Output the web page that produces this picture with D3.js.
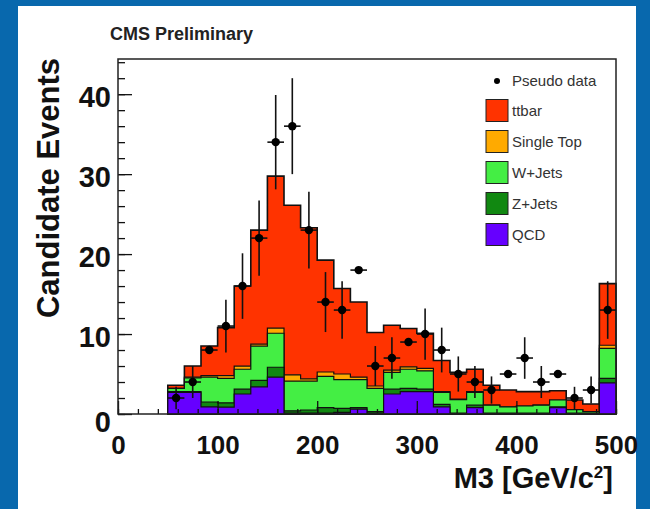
<!DOCTYPE html>
<head>
  <meta charset="utf-8">
  <script src="https://d3js.org/d3.v7.min.js"></script>
  <style>
    body { margin:0; background:#0868ad; }
    text { font-family: "Liberation Sans", Arial, Helvetica, sans-serif; }
    .axis path { display:none; }
    .axis line { stroke:#111; stroke-width:1.3px; }
    .x.axis text { font-size:26px; font-weight:bold; fill:#111; }
    .y.axis text { font-size:29px; font-weight:bold; fill:#111; }
  </style>
</head>
<body>
  <script>
    // bin low edges (30 bins from 0 to 500, first three are empty)
    var binLow = [50, 66.67, 83.33, 100, 116.67, 133.33, 150, 166.67, 183.33, 200,
                  216.67, 233.33, 250, 266.67, 283.33, 300, 316.67, 333.33, 350, 366.67,
                  383.33, 400, 416.67, 433.33, 450, 466.67, 483.33];
    var binHigh = 500;

    // per-sample contributions in each bin
    var qcd    = [2.7, 2.7, 0.9, 0.85, 2.5, 3.4, 4.6, 0.1, 0.1, 0.1, 0.2, 0.6, 0.1, 2.5, 2.8, 2.8, 0.9, 0.0, 0.8, 0.0, 0.0, 0.0, 0.0, 0.8, 0.0, 0.0, 3.9];
    var zjets  = [0.1, 0.1, 0.6, 0.55, 0.6, 0.8, 1.25, 0.3, 0.4, 0.7, 0.5, 0.2, 0.2, 0.6, 0.4, 0.3, 0.3, 0.1, 0.3, 0.1, 0.1, 0.1, 0.1, 0.1, 0.1, 0.1, 0.55];
    var wjets  = [0.4, 1.7, 3.1, 3.05, 2.5, 4.3, 4.25, 3.7, 3.6, 3.9, 3.6, 3.5, 2.9, 2.1, 2.4, 2.3, 1.5, 1.7, 1.6, 1.0, 0.8, 0.9, 1.0, 0.85, 0.45, 0.2, 3.75];
    var stop   = [0.0, 0.1, 0.2, 0.35, 0.4, 0.25, 0.65, 0.8, 0.3, 0.55, 0.7, 0.3, 0.3, 0.3, 0.3, 0.3, 0.1, 0.05, 0.1, 0.0, 0.0, 0.0, 0.0, 0.0, 0.0, 0.0, 0.4];
    var ttbar  = [0.4, 1.4, 3.7, 6.0, 10.0, 14.25, 19.0, 21.2, 18.9, 14.0, 10.7, 9.4, 6.7, 5.6, 4.8, 4.4, 3.9, 3.35, 2.8, 2.5, 2.1, 1.8, 1.7, 1.15, 1.2, 0.95, 7.7];

    // pseudo data and its vertical error bars (0 = no bar visible)
    var dataVals = [2, 4, 8, 11, 16, 22, 34, 36, 23, 14, 13, 18, 6, 7, 9, 10, 8, 5, 4, 3, 5, 7, 4, 5, 2, 3, 13];
    var dataErr  = [1.4, 2, 0, 3.3, 4.1, 4.7, 5.9, 6, 4.8, 3.75, 3.6, 0, 2.5, 2.6, 0, 3.2, 2.8, 2.2, 2, 1.7, 0, 2.6, 2, 0, 1.4, 1.7, 3.6];

    var xTicks = [0, 100, 200, 300, 400, 500];
    var yTicks = [0, 10, 20, 30, 40];

    var layerNames  = ["ttbar", "Single Top", "W+Jets", "Z+Jets", "QCD"];
    var layerColors = ["#ff3300", "#ffaa00", "#44ee44", "#118811", "#6600ff"];

    var W = 650, H = 509;
    var plotL = 118, plotR = 616, plotT = 59, plotB = 414;

    var svg = d3.select("body").append("svg")
        .attr("width", W).attr("height", H)
        .style("display", "block");

    // blue slide frame and white page
    svg.append("rect").attr("width", W).attr("height", H).attr("fill", "#0868ad");
    svg.append("rect").attr("x", 18).attr("y", 6).attr("width", 618).attr("height", H - 6).attr("fill", "#fff");

    var x = d3.scaleLinear().domain([0, 500]).range([plotL, plotR]);
    var y = d3.scaleLinear().domain([0, 44.4]).range([plotB, plotT]);

    // cumulative stack: qcd, z, w, single top, ttbar
    var order = [qcd, zjets, wjets, stop, ttbar];
    var cum = [];
    var run = binLow.map(function() { return 0; });
    order.forEach(function(arr) {
      run = run.map(function(v, i) { return v + arr[i]; });
      cum.push(run.slice());
    });
    // draw from top layer down
    var drawOrder = [4, 3, 2, 1, 0];
    var colorByLayer = ["#6600ff", "#118811", "#44ee44", "#ffaa00", "#ff3300"];

    var area = d3.area()
        .curve(d3.curveStepAfter)
        .x(function(d) { return x(d.x); })
        .y0(y(0))
        .y1(function(d) { return y(d.v); });

    drawOrder.forEach(function(k) {
      var pts = binLow.map(function(b, i) { return {x: b, v: cum[k][i]}; });
      pts.push({x: binHigh, v: cum[k][cum[k].length - 1]});
      svg.append("path")
          .datum(pts)
          .attr("d", area)
          .attr("fill", colorByLayer[k])
          .attr("stroke", "#111")
          .attr("stroke-width", k === 4 ? 1.6 : 1.2);
    });

    // axes (ticks pointing inward)
    svg.append("g")
        .attr("class", "x axis")
        .attr("transform", "translate(0," + plotB + ")")
        .call(d3.axisBottom(x).tickValues(d3.range(0, 501, 20)).tickSize(-5).tickFormat(""));
    svg.append("g")
        .attr("class", "x axis")
        .attr("transform", "translate(0," + plotB + ")")
        .call(d3.axisBottom(x).tickValues(xTicks).tickSize(-13).tickPadding(22));

    svg.append("g")
        .attr("class", "y axis")
        .attr("transform", "translate(" + plotL + ",0)")
        .call(d3.axisLeft(y).tickValues(d3.range(0, 44.5, 2)).tickSize(-7).tickFormat(""));
    svg.append("g")
        .attr("class", "y axis")
        .attr("transform", "translate(" + plotL + ",0)")
        .call(d3.axisLeft(y).tickValues(yTicks).tickSize(-14).tickPadding(7))
      .selectAll("text").attr("dy", function(d) { return d === 0 ? "0.6em" : "0.42em"; });

    // frame
    svg.append("rect")
        .attr("x", plotL).attr("y", plotT)
        .attr("width", plotR - plotL).attr("height", plotB - plotT)
        .attr("fill", "none").attr("stroke", "#222").attr("stroke-width", 1.5);

    // pseudo data points
    var half = (binLow[1] - binLow[0]) / 2;
    var pts = svg.append("g");
    dataVals.forEach(function(v, i) {
      var cx = binLow[i] + half;
      pts.append("line")
          .attr("x1", x(cx - half)).attr("x2", x(cx + half))
          .attr("y1", y(v)).attr("y2", y(v))
          .attr("stroke", "#111").attr("stroke-width", 1.6);
      if (dataErr[i] > 0) {
        pts.append("line")
            .attr("x1", x(cx)).attr("x2", x(cx))
            .attr("y1", y(v - dataErr[i])).attr("y2", y(v + dataErr[i]))
            .attr("stroke", "#111").attr("stroke-width", 1.6);
      }
      pts.append("circle")
          .attr("cx", x(cx)).attr("cy", y(v)).attr("r", 4.2)
          .attr("fill", "#000");
    });

    // legend
    var lg = svg.append("g");
    lg.append("circle").attr("cx", 497).attr("cy", 81).attr("r", 3).attr("fill", "#000");
    lg.append("text").attr("x", 512).attr("y", 81).attr("dy", "0.35em")
        .style("font-size", "15px").attr("fill", "#333").text("Pseudo data");
    layerNames.forEach(function(name, i) {
      var cy = 110.5 + i * 31;
      lg.append("rect")
          .attr("x", 486).attr("y", cy - 11).attr("width", 22).attr("height", 22)
          .attr("fill", layerColors[i]).attr("stroke", "#222").attr("stroke-width", 1);
      lg.append("text").attr("x", 512).attr("y", cy).attr("dy", "0.35em")
          .style("font-size", "15px").attr("fill", "#333").text(name);
    });

    // titles
    svg.append("text")
        .attr("x", 110).attr("y", 40)
        .style("font-size", "18px").style("font-weight", "bold").attr("fill", "#222")
        .text("CMS Preliminary");

    svg.append("text")
        .attr("transform", "translate(59,188) rotate(-90)")
        .attr("text-anchor", "middle")
        .style("font-size", "31px").style("font-weight", "bold").attr("fill", "#111")
        .text("Candidate Events");

    var xt = svg.append("text")
        .attr("x", 613).attr("y", 488)
        .attr("text-anchor", "end")
        .style("font-size", "29px").style("font-weight", "bold").attr("fill", "#111");
    xt.append("tspan").text("M3 [GeV/c");
    xt.append("tspan").attr("dy", "-10").style("font-size", "17px").text("2");
    xt.append("tspan").attr("dy", "10").text("]");
  </script>
</body>
